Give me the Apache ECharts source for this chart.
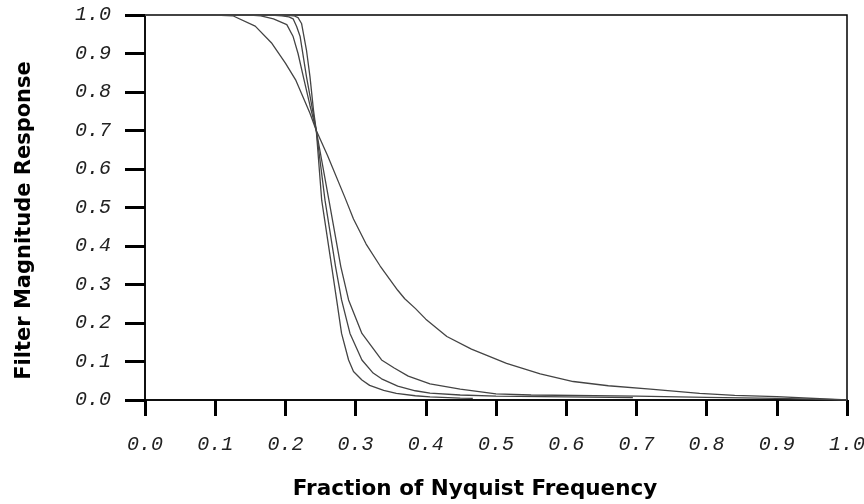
<!DOCTYPE html>
<html>
<head>
<meta charset="utf-8">
<script src="https://cdn.jsdelivr.net/npm/echarts@6/dist/echarts.min.js"></script>
<style>
  html, body { margin: 0; padding: 0; background: #fff; }
  #chart { width: 864px; height: 504px; }
</style>
</head>
<body>
<div id="chart"></div>
<script>
// tick labels
const xTickLabels = ['0.0', '0.1', '0.2', '0.3', '0.4', '0.5', '0.6', '0.7', '0.8', '0.9', '1.0'];
const yTickLabels = ['0.0', '0.1', '0.2', '0.3', '0.4', '0.5', '0.6', '0.7', '0.8', '0.9', '1.0'];

// [fraction of nyquist, magnitude], one array per curve
const curveA = [
  [0, 1], [0.1, 1], [0.125, 0.998], [0.157, 0.971], [0.18, 0.928], [0.2, 0.875],
  [0.215, 0.83], [0.235, 0.745], [0.244, 0.70], [0.26, 0.635], [0.285, 0.525],
  [0.297, 0.47], [0.315, 0.405], [0.335, 0.348], [0.36, 0.285], [0.37, 0.263],
  [0.385, 0.238], [0.40, 0.21], [0.43, 0.165], [0.465, 0.132], [0.515, 0.095],
  [0.563, 0.068], [0.61, 0.048], [0.66, 0.037], [0.72, 0.028], [0.79, 0.017],
  [0.84, 0.012], [0.9, 0.009], [1.0, 0]
];
const curveB = [
  [0, 1], [0.15, 1], [0.165, 0.998], [0.183, 0.99], [0.202, 0.975], [0.211, 0.944],
  [0.218, 0.9], [0.2255, 0.84], [0.235, 0.765], [0.244, 0.70], [0.262, 0.519],
  [0.279, 0.346], [0.29, 0.26], [0.309, 0.173], [0.337, 0.104], [0.355, 0.083],
  [0.375, 0.062], [0.406, 0.042], [0.449, 0.028], [0.5, 0.016], [0.55, 0.013],
  [0.7, 0.01], [0.8, 0.007], [0.9, 0.004], [1.0, 0]
];
const curveC = [
  [0, 1], [0.18, 1], [0.195, 0.998], [0.205, 0.995], [0.211, 0.99], [0.216, 0.97],
  [0.221, 0.944], [0.23, 0.84], [0.236, 0.78], [0.244, 0.70], [0.2564, 0.519],
  [0.2715, 0.346], [0.28, 0.26], [0.292, 0.173], [0.309, 0.104], [0.325, 0.07],
  [0.337, 0.055], [0.36, 0.036], [0.385, 0.024], [0.406, 0.018], [0.449, 0.013],
  [0.5, 0.01], [0.6, 0.008], [0.695, 0.006]
];
const curveD = [
  [0, 1], [0.2, 1], [0.212, 0.998], [0.218, 0.993], [0.223, 0.978], [0.23, 0.909],
  [0.235, 0.84], [0.24, 0.753], [0.244, 0.70], [0.2517, 0.519], [0.266, 0.346],
  [0.273, 0.26], [0.28, 0.173], [0.29, 0.104], [0.297, 0.074], [0.309, 0.052],
  [0.32, 0.038], [0.34, 0.025], [0.358, 0.017], [0.385, 0.011], [0.406, 0.008],
  [0.449, 0.005], [0.467, 0.004]
];

const curves = [curveA, curveB, curveC, curveD];

let myChart = echarts.init(document.getElementById('chart'));

let tickFont = {
  fontFamily: 'Liberation Mono',
  fontStyle: 'italic',
  fontSize: 20,
  color: '#222'
};

let option = {
  animation: false,
  grid: {
    show: true,
    left: 145,
    right: 17,
    top: 15,
    bottom: 104,
    outerBoundsMode: 'none',
    containLabel: false,
    borderColor: '#000',
    borderWidth: 1.5,
    backgroundColor: 'transparent'
  },
  xAxis: {
    type: 'value',
    min: 0,
    max: 1,
    interval: 0.1,
    name: 'Fraction of Nyquist Frequency',
    nameLocation: 'middle',
    nameGap: 78,
    nameTextStyle: {
      fontFamily: 'DejaVu Sans',
      fontWeight: 'bold',
      fontSize: 21.5,
      color: '#000',
      padding: [0, 42, 0, 0]
    },
    axisLine: { show: true, onZero: false, lineStyle: { color: '#000', width: 1.5 } },
    axisTick: { show: true, inside: false, length: 16, lineStyle: { color: '#000', width: 3 } },
    splitLine: { show: false },
    axisLabel: Object.assign({
      margin: 35,
      formatter: (v, i) => xTickLabels[i]
    }, tickFont)
  },
  yAxis: {
    type: 'value',
    position: 'left',
    min: 0,
    max: 1,
    interval: 0.1,
    name: 'Filter Magnitude Response',
    nameLocation: 'middle',
    nameGap: 110,
    nameTextStyle: {
      fontFamily: 'DejaVu Sans',
      fontWeight: 'bold',
      fontSize: 21,
      color: '#000',
      padding: [0, 26, 0, 0]
    },
    axisLine: { show: true, onZero: false, lineStyle: { color: '#000', width: 1.5 } },
    axisTick: { show: true, inside: false, length: 20, lineStyle: { color: '#000', width: 3, opacity: 1 } },
    splitLine: { show: false },
    axisLabel: Object.assign({
      margin: 34,
      formatter: (v, i) => yTickLabels[i]
    }, tickFont)
  },
  series: curves.map(c => ({
    type: 'line',
    data: c,
    showSymbol: false,
    smooth: false,
    lineStyle: { color: '#444', width: 1.3 }
  }))
};

myChart.setOption(option);
</script>
</body>
</html>
